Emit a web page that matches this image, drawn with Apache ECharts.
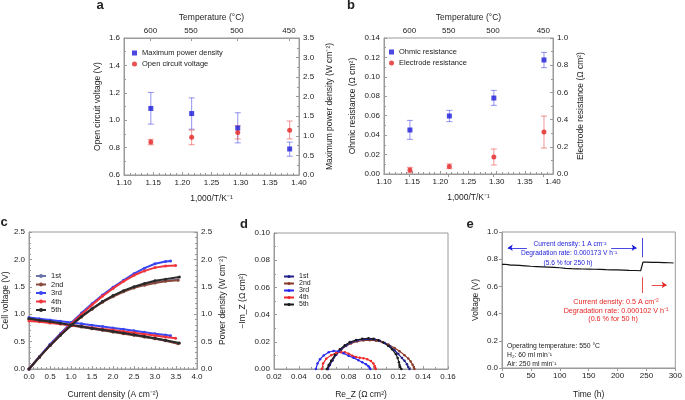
<!DOCTYPE html>
<html><head><meta charset="utf-8">
<script src="https://cdn.jsdelivr.net/npm/echarts@6/dist/echarts.min.js"></script>
<style>html,body{margin:0;padding:0;background:#fff}#c{width:685px;height:400px}</style>
</head><body><div id="c"></div>
<script>
// ---------- Panel a ----------
const aX = [1.146, 1.216, 1.295, 1.384];
const aMPD = [1.70, 1.57, 1.20, 0.665];
const aMPDhi = [2.11, 1.97, 1.59, 0.84];
const aMPDlo = [1.30, 1.17, 0.82, 0.48];
const aOCV = [0.841, 0.875, 0.911, 0.926];
const aOCVhi = [0.860, 0.928, 0.960, 0.994];
const aOCVlo = [0.821, 0.821, 0.863, 0.863];
const tempTicks = [600, 550, 500, 450];
// ---------- Panel b ----------
const bX = [1.146, 1.216, 1.295, 1.384];
const bOhm = [0.0453, 0.0597, 0.0782, 0.1174];
const bOhmHi = [0.0552, 0.0655, 0.0861, 0.1252];
const bOhmLo = [0.0357, 0.0539, 0.0707, 0.1095];
const bEl = [0.029, 0.056, 0.125, 0.309];
const bElHi = [0.049, 0.074, 0.184, 0.426];
const bElLo = [0.010, 0.039, 0.066, 0.191];
// ---------- Panel c (current density, voltage, power) ----------
const c1I = [0,0.25,0.5,0.75,1,1.25,1.5,1.75,2,2.25,2.5,2.75,3,3.25,3.55];
const c1V = [0.91,0.885,0.86,0.83,0.80,0.77,0.74,0.71,0.68,0.65,0.62,0.59,0.555,0.52,0.465];
const c1P = [0,0.22,0.43,0.62,0.80,0.96,1.10,1.23,1.33,1.42,1.49,1.54,1.58,1.61,1.63];
const c2I = [0,0.25,0.5,0.75,1,1.25,1.5,1.75,2,2.25,2.5,2.75,3,3.25,3.55];
const c2V = [0.91,0.88,0.855,0.825,0.795,0.765,0.735,0.705,0.675,0.645,0.615,0.585,0.55,0.515,0.46];
const c2P = [0,0.22,0.43,0.62,0.79,0.95,1.09,1.22,1.32,1.41,1.48,1.53,1.57,1.60,1.62];
const c3I = [0,0.25,0.5,0.75,1,1.25,1.5,1.75,2,2.25,2.5,2.75,3,3.25,3.37];
const c3V = [0.94,0.915,0.895,0.87,0.85,0.825,0.80,0.775,0.75,0.725,0.70,0.67,0.645,0.62,0.605];
const c3P = [0,0.23,0.45,0.65,0.84,1.02,1.19,1.35,1.49,1.62,1.74,1.84,1.92,1.96,1.97];
const c4I = [0,0.25,0.5,0.75,1,1.25,1.5,1.75,2,2.25,2.5,2.75,3,3.25,3.49];
const c4V = [0.875,0.86,0.84,0.82,0.80,0.78,0.755,0.73,0.71,0.685,0.66,0.635,0.61,0.585,0.56];
const c4P = [0,0.22,0.43,0.63,0.82,1.00,1.17,1.33,1.47,1.60,1.71,1.79,1.85,1.88,1.89];
const c5I = [0,0.25,0.5,0.75,1,1.25,1.5,1.75,2,2.25,2.5,2.75,3,3.25,3.58];
const c5V = [0.92,0.89,0.865,0.835,0.805,0.775,0.745,0.715,0.685,0.655,0.625,0.595,0.56,0.525,0.475];
const c5P = [0,0.22,0.43,0.62,0.80,0.96,1.10,1.23,1.34,1.43,1.50,1.56,1.61,1.64,1.68];
const runNames = ['1st','2nd','3rd','4th','5th'];
// ---------- Panel d (Nyquist) ----------
const d1x = [0.0635,0.065,0.067,0.070,0.074,0.078,0.082,0.087,0.092,0.097,0.101,0.105,0.109,0.113,0.117,0.120,0.123,0.125,0.127,0.128,0.129];
const d1y = [0,0.003,0.0062,0.0105,0.0145,0.0173,0.0195,0.021,0.0218,0.022,0.0216,0.0207,0.0192,0.017,0.0138,0.011,0.008,0.006,0.0035,0.0015,0];
const d2x = [0.063,0.0645,0.067,0.070,0.074,0.078,0.082,0.087,0.092,0.097,0.102,0.107,0.112,0.117,0.121,0.125,0.128,0.130,0.1315,0.1325,0.133];
const d2y = [0,0.003,0.0065,0.0105,0.0142,0.017,0.0188,0.0202,0.021,0.0212,0.0208,0.0198,0.018,0.0155,0.013,0.0102,0.0078,0.0055,0.0032,0.0014,0];
const d3x = [0.0537,0.055,0.057,0.060,0.064,0.068,0.072,0.076,0.080,0.084,0.088,0.091,0.094,0.096,0.097,0.0975];
const d3y = [0,0.004,0.0072,0.010,0.0123,0.0133,0.013,0.0115,0.0098,0.0082,0.0065,0.005,0.0035,0.002,0.0008,0];
const d4x = [0.0585,0.0595,0.062,0.066,0.070,0.074,0.077,0.080,0.083,0.086,0.089,0.092,0.095,0.098,0.100,0.101,0.1015,0.1018];
const d4y = [0,0.004,0.0075,0.0102,0.0118,0.0124,0.0123,0.0113,0.0098,0.0088,0.0083,0.0079,0.0072,0.0058,0.0040,0.0022,0.0008,0];
const d5x = [0.0625,0.064,0.066,0.069,0.073,0.077,0.081,0.086,0.091,0.096,0.100,0.104,0.108,0.112,0.115,0.118,0.1195,0.1205,0.121,0.1215,0.1225];
const d5y = [0,0.003,0.006,0.0105,0.0145,0.0175,0.0198,0.0213,0.0222,0.0226,0.0222,0.0212,0.0195,0.017,0.0145,0.011,0.008,0.005,0.003,0.0015,0];
// ---------- Panel e (durability) ----------
const eT = [0,5,10,15,20,30,40,50,60,70,80,90,100,110,120,130,140,150,160,170,180,190,200,210,220,230,240,243,244,250,260,270,280,290,297];
const eV = [0.762,0.763,0.760,0.757,0.756,0.754,0.751,0.748,0.746,0.744,0.742,0.740,0.737,0.733,0.730,0.729,0.728,0.727,0.726,0.725,0.723,0.722,0.721,0.720,0.718,0.717,0.715,0.716,0.778,0.778,0.777,0.776,0.775,0.774,0.772];

const FONT = 'Liberation Sans, Arial, Helvetica, sans-serif';
const AX = '#9a9a9a', TXT = '#222';
const BLUE = '#1c1cd8', RED = '#e42424';
const BLUE_E = 'rgba(60,60,230,0.55)', RED_E = 'rgba(235,60,60,0.55)';
const cCols = ['#6a74a8','#8c4a3c','#3a46f0','#f0343c','#2a2a2a'];
const dCols = ['#22228a','#8c3a2a','#2a2aee','#ee2a2a','#1a1a1a'];

function axis(o) {
  const a = {
    type:'value', axisLine:{show:true, lineStyle:{color:AX}},
    axisTick:{show:true, inside:o.out ? false : true, length:3, lineStyle:{color:AX}},
    minorTick:{show: o.minor !== undefined, splitNumber:o.minor || 5, length:2, lineStyle:{color:AX}},
    splitLine:{show:false},
    axisLabel:{color:TXT, fontSize:8, margin:o.margin || 4, formatter:o.fmt, fontFamily:FONT},
    nameTextStyle:{color:TXT, fontSize:8.5, fontFamily:FONT},
    nameLocation:'middle'
  };
  ['gridIndex','min','max','interval','position','name','nameGap','nameRotate'].forEach(k => { if (o[k] !== undefined) a[k] = o[k]; });
  return a;
}
const f1 = v => v.toFixed(1), f2 = v => v.toFixed(2);
const tempPos = tempTicks.map(t => 1000 / (t + 273.15));

function errBar(xs, lo, hi, color, xi, yi) {
  return {
    type:'custom', xAxisIndex:xi, yAxisIndex:yi, silent:true, z:1,
    data: xs.map((x, i) => [x, lo[i], hi[i]]),
    encode:{x:0, y:[1,2]},
    renderItem: (params, api) => {
      const p1 = api.coord([api.value(0), api.value(1)]);
      const p2 = api.coord([api.value(0), api.value(2)]);
      const w = 3, st = {stroke:color, lineWidth:1};
      return {type:'group', children:[
        {type:'line', shape:{x1:p1[0], y1:p1[1], x2:p2[0], y2:p2[1]}, style:st},
        {type:'line', shape:{x1:p1[0]-w, y1:p1[1], x2:p1[0]+w, y2:p1[1]}, style:st},
        {type:'line', shape:{x1:p2[0]-w, y1:p2[1], x2:p2[0]+w, y2:p2[1]}, style:st}
      ]};
    }
  };
}
const zip = (xs, ys) => xs.map((x, i) => [x, ys[i]]);

const grids = [
  {left:124, top:38, width:175, height:137},
  {left:384, top:38, width:169, height:136},
  {left:26, top:232, width:171, height:139},
  {left:274, top:233, width:174, height:139},
  {left:502, top:232, width:175, height:138}
].map(g => Object.assign({show:true, borderColor:AX, borderWidth:1, backgroundColor:'transparent'}, g));

const tempLabel = v => String(Math.round(1000 / v - 273.15));
const xAxes = [
  axis({gridIndex:0, min:1.1, max:1.4, interval:0.05, fmt:f2, minor:5, name:'1,000/T/K⁻¹', nameGap:19}),
  Object.assign(axis({gridIndex:0, position:'top', min:1.1, max:1.4, name:'Temperature (°C)', nameGap:16, margin:3}),
    {axisLabel:{customValues:tempPos, color:TXT, fontSize:8, margin:3, fontFamily:FONT, formatter:tempLabel},
     axisTick:{customValues:tempPos, inside:true, length:3, lineStyle:{color:AX}}}),
  axis({gridIndex:1, min:1.1, max:1.4, interval:0.05, fmt:f2, minor:5, name:'1,000/T/K⁻¹', nameGap:19}),
  Object.assign(axis({gridIndex:1, position:'top', min:1.1, max:1.4, name:'Temperature (°C)', nameGap:16, margin:3}),
    {axisLabel:{customValues:tempPos, color:TXT, fontSize:8, margin:3, fontFamily:FONT, formatter:tempLabel},
     axisTick:{customValues:tempPos, inside:true, length:3, lineStyle:{color:AX}}}),
  axis({gridIndex:2, min:0, max:4, interval:0.5, fmt:f1, minor:5, name:'Current density (A cm⁻²)', nameGap:21}),
  axis({gridIndex:3, min:0.02, max:0.16, interval:0.02, fmt:f2, minor:2, name:'Re_Z (Ω cm²)', nameGap:21}),
  axis({gridIndex:4, min:0, max:300, interval:50, fmt:v => String(v), out:true, name:'Time (h)', nameGap:22})
];
const yAxes = [
  axis({gridIndex:0, min:0.6, max:1.6, interval:0.2, fmt:f1, minor:2, name:'Open circuit voltage (V)', nameGap:22}),
  axis({gridIndex:0, position:'right', min:0, max:3.5, interval:0.5, fmt:f1, minor:2, name:'Maximum power density (W cm⁻²)', nameGap:26, nameRotate:90}),
  axis({gridIndex:1, min:0, max:0.14, interval:0.02, fmt:f2, minor:2, name:'Ohmic resistance (Ω cm²)', nameGap:27}),
  axis({gridIndex:1, position:'right', min:0, max:1.0, interval:0.2, fmt:f1, minor:2, name:'Electrode resistance (Ω cm²)', nameGap:23, nameRotate:90}),
  axis({gridIndex:2, min:0, max:2.5, interval:0.5, fmt:f1, minor:5, name:'Cell voltage (V)', nameGap:18}),
  axis({gridIndex:2, position:'right', min:0, max:2.5, interval:0.5, fmt:f1, minor:5, name:'Power density (W cm⁻²)', nameGap:21, nameRotate:90}),
  axis({gridIndex:3, min:0, max:0.10, interval:0.02, fmt:f2, minor:2, name:'−Im_Z (Ω cm²)', nameGap:27}),
  axis({gridIndex:4, min:0, max:1.0, interval:0.2, fmt:f1, out:true, name:'Voltage (V)', nameGap:22})
];

const series = [];
// a
series.push(errBar(aX, aMPDlo, aMPDhi, BLUE_E, 0, 1));
series.push(errBar(aX, aOCVlo, aOCVhi, RED_E, 0, 0));
series.push({type:'scatter', name:'Maximum power density', xAxisIndex:0, yAxisIndex:1, symbol:'rect', symbolSize:5, itemStyle:{color:BLUE}, data:zip(aX, aMPD), z:3});
series.push({type:'scatter', name:'Open circuit voltage', xAxisIndex:0, yAxisIndex:0, symbol:'circle', symbolSize:5, itemStyle:{color:RED}, data:zip(aX, aOCV), z:3});
// b
series.push(errBar(bX, bOhmLo, bOhmHi, BLUE_E, 2, 2));
series.push(errBar(bX, bElLo, bElHi, RED_E, 2, 3));
series.push({type:'scatter', name:'Ohmic resistance', xAxisIndex:2, yAxisIndex:2, symbol:'rect', symbolSize:5, itemStyle:{color:BLUE}, data:zip(bX, bOhm), z:3});
series.push({type:'scatter', name:'Electrode resistance', xAxisIndex:2, yAxisIndex:3, symbol:'circle', symbolSize:5, itemStyle:{color:RED}, data:zip(bX, bEl), z:3});
// c
const cSets = [[c1I,c1V,c1P],[c2I,c2V,c2P],[c3I,c3V,c3P],[c4I,c4V,c4P],[c5I,c5V,c5P]];
const cOrder = [0,1,4,3,2];
cOrder.forEach(k => {
  const [I, V, P] = cSets[k];
  const base = {type:'line', name:runNames[k], xAxisIndex:4, symbol:'circle', symbolSize:3, showSymbol:true,
    lineStyle:{width:2, color:cCols[k]}, itemStyle:{color:cCols[k]}, z:2+k};
  series.push(Object.assign({}, base, {yAxisIndex:4, data:zip(I, V)}));
  series.push(Object.assign({}, base, {yAxisIndex:5, data:zip(I, P)}));
});
// d (names carry a zero-width space so its legend is independent of panel c)
const dSets = [[d1x,d1y],[d2x,d2y],[d3x,d3y],[d4x,d4y],[d5x,d5y]];
const dNames = runNames.map(n => n + '\u200b');
[1,0,4,3,2].forEach(k => {
  series.push({type:'line', name:dNames[k], xAxisIndex:5, yAxisIndex:6, symbol:'circle', symbolSize:2.5,
    lineStyle:{width:1.2, color:dCols[k]}, itemStyle:{color:dCols[k]}, data:zip(dSets[k][0], dSets[k][1])});
});
// e
series.push({type:'line', xAxisIndex:6, yAxisIndex:7, showSymbol:false, lineStyle:{width:1.2, color:'#111'}, data:zip(eT, eV),
  markLine:{silent:true, animation:false, symbol:['none','none'], symbolSize:5, label:{show:false},
    lineStyle:{type:'solid', width:0.8},
    data:[
      [{coord:[243,0.956], lineStyle:{color:BLUE, type:'solid', width:0.8}}, {coord:[243,0.814]}],
      [{coord:[243,0.667], lineStyle:{color:RED, type:'solid', width:0.8}}, {coord:[243,0.551]}],
      [{coord:[43,0.884], symbol:'none', lineStyle:{color:BLUE, type:'solid', width:0.8}}, {coord:[10,0.884], symbol:'arrow'}],
      [{coord:[189,0.884], symbol:'none', lineStyle:{color:BLUE, type:'solid', width:0.8}}, {coord:[233,0.884], symbol:'arrow'}],
      [{coord:[259,0.611], symbol:'none', lineStyle:{color:RED, type:'solid', width:0.8}}, {coord:[285,0.611], symbol:'arrow'}]
    ]}});

const legText = sz => ({color:TXT, fontSize:sz, fontFamily:FONT});
const legends = [
  {data:['Maximum power density','Open circuit voltage'], left:127, top:44, orient:'vertical', itemWidth:5, itemHeight:5, itemGap:3, selectedMode:false, textStyle:legText(7.5)},
  {data:['Ohmic resistance','Electrode resistance'], left:384, top:43, orient:'vertical', itemWidth:5, itemHeight:5, itemGap:3, selectedMode:false, textStyle:legText(7.5)},
  {data:runNames, left:30, top:267, orient:'vertical', itemWidth:10, itemHeight:5, itemGap:0.5, selectedMode:false, textStyle:legText(7.5)},
  {data:dNames, left:278, top:268, orient:'vertical', itemWidth:10, itemHeight:4, itemGap:0, selectedMode:false, textStyle:legText(7)}
];

function txt(x, y, s, o) {
  o = o || {};
  return {type:'text', x:x, y:y, silent:true, z:100, style:{text:s, fill:o.fill || TXT,
    font:(o.bold ? 'bold ' : '') + (o.size || 7) + 'px ' + FONT,
    align:o.align || 'center', verticalAlign:'middle', textAlign:o.align || 'center', textVerticalAlign:'middle'}};
}
const graphics = [
  txt(100, 5, 'a', {bold:true, size:13}),
  txt(351, 5, 'b', {bold:true, size:13}),
  txt(4, 222, 'c', {bold:true, size:13}),
  txt(244, 224, 'd', {bold:true, size:13}),
  txt(470, 224, 'e', {bold:true, size:13}),
  txt(570, 244.5, 'Current density: 1 A cm⁻²', {fill:BLUE, size:6.6}),
  txt(569, 253.5, 'Degradation rate: 0.000173 V h⁻¹', {fill:BLUE, size:6.6}),
  txt(568, 262.7, '(5.6 % for 250 h)', {fill:BLUE, size:6.6}),
  txt(616, 302.3, 'Current density: 0.5 A cm⁻²', {fill:RED, size:7.2}),
  txt(616, 310.8, 'Degradation rate: 0.000102 V h⁻¹', {fill:RED, size:7.2}),
  txt(613, 319.3, '(0.6 % for 50 h)', {fill:RED, size:7.2}),
  txt(507, 346, 'Operating temperature: 550 °C', {align:'left', size:6.8}),
  txt(507, 355, 'H₂: 60 ml min⁻¹', {align:'left', size:6.8}),
  txt(507, 364, 'Air: 250 ml min⁻¹', {align:'left', size:6.8})
];

const chart = echarts.init(document.getElementById('c'), null, {renderer:'canvas'});
chart.setOption({
  animation:false, backgroundColor:'#fff',
  textStyle:{fontFamily:FONT},
  grid:grids, xAxis:xAxes, yAxis:yAxes, series:series, legend:legends, graphic:graphics
});
</script>
</body></html>
